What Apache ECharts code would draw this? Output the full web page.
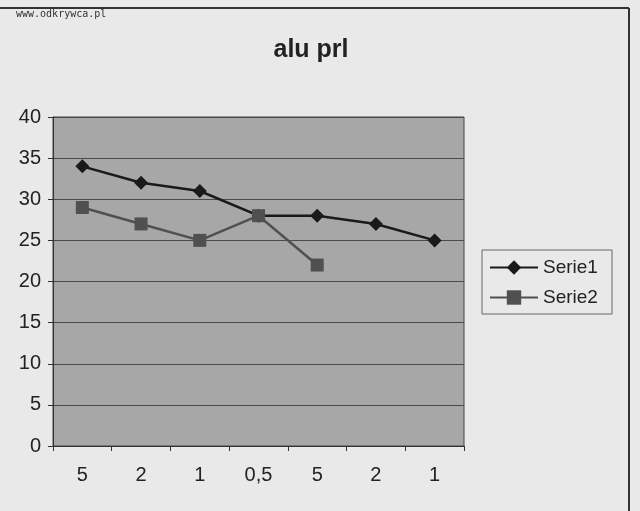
<!DOCTYPE html>
<html><head><meta charset="utf-8">
<script src="https://cdn.jsdelivr.net/npm/echarts@6/dist/echarts.min.js"></script>
<style>html,body{margin:0;padding:0;background:#e9e9ea;}#c{width:640px;height:511px;}</style>
</head><body><div id="c"></div>
<script>
var categories = ['5', '2', '1', '0,5', '5', '2', '1'];
var serie1 = [34, 32, 31, 28, 28, 27, 25];
var serie2 = [29, 27, 25, 28, 22, null, null];
var yTicks = [0, 5, 10, 15, 20, 25, 30, 35, 40];

var chart = echarts.init(document.getElementById('c'));
chart.setOption({
  backgroundColor: '#e9e9ea',
  animation: false,
  title: {
    text: 'alu prl', left: 306, top: 33, textAlign: 'center',
    textStyle: { fontFamily: 'Liberation Sans', fontSize: 25, fontWeight: 'bold', color: '#222' }
  },
  graphic: [
    { type: 'line', shape: { x1: 0, y1: 8, x2: 629, y2: 8 }, style: { stroke: '#333', lineWidth: 2 } },
    { type: 'line', shape: { x1: 629, y1: 8, x2: 629, y2: 511 }, style: { stroke: '#333', lineWidth: 2 } },
    { type: 'text', left: 16, top: 9, style: { text: 'www.odkrywca.pl', font: '10px "DejaVu Sans Mono"', fill: '#333' } },
    { type: 'rect', shape: { x: 482, y: 250, width: 130, height: 64 }, style: { fill: 'none', stroke: '#666', lineWidth: 1 } }
  ],
  legend: {
    left: 484, top: 253, orient: 'vertical', itemGap: 11, itemWidth: 48, itemHeight: 18,
    textStyle: { fontFamily: 'Liberation Sans', fontSize: 19, color: '#222' },
    data: ['Serie1', 'Serie2']
  },
  grid: { left: 53, right: 176, top: 117, bottom: 65, show: true, backgroundColor: '#a7a7a8', borderColor: '#444', borderWidth: 1 },
  xAxis: {
    type: 'category', data: categories, boundaryGap: true,
    axisLine: { lineStyle: { color: '#333' } },
    axisTick: { show: true, length: 5, lineStyle: { color: '#333' } },
    axisLabel: { fontFamily: 'Liberation Sans', fontSize: 20, color: '#222', margin: 19 }
  },
  yAxis: {
    type: 'value', min: 0, max: 40, interval: 5,
    axisLine: { show: true, lineStyle: { color: '#333' } },
    axisTick: { show: true, length: 5, lineStyle: { color: '#333' } },
    axisLabel: { fontFamily: 'Liberation Sans', fontSize: 20, color: '#222', margin: 12 },
    splitLine: { lineStyle: { color: '#4a4a4a', width: 1 } }
  },
  series: [
    { name: 'Serie1', type: 'line', data: serie1, symbol: 'diamond', symbolSize: 14,
      lineStyle: { color: '#1a1a1a', width: 2.5 }, itemStyle: { color: '#1a1a1a' } },
    { name: 'Serie2', type: 'line', data: serie2, symbol: 'rect', symbolSize: 13,
      lineStyle: { color: '#505050', width: 2.5 }, itemStyle: { color: '#505050' } }
  ]
});
</script></body></html>
